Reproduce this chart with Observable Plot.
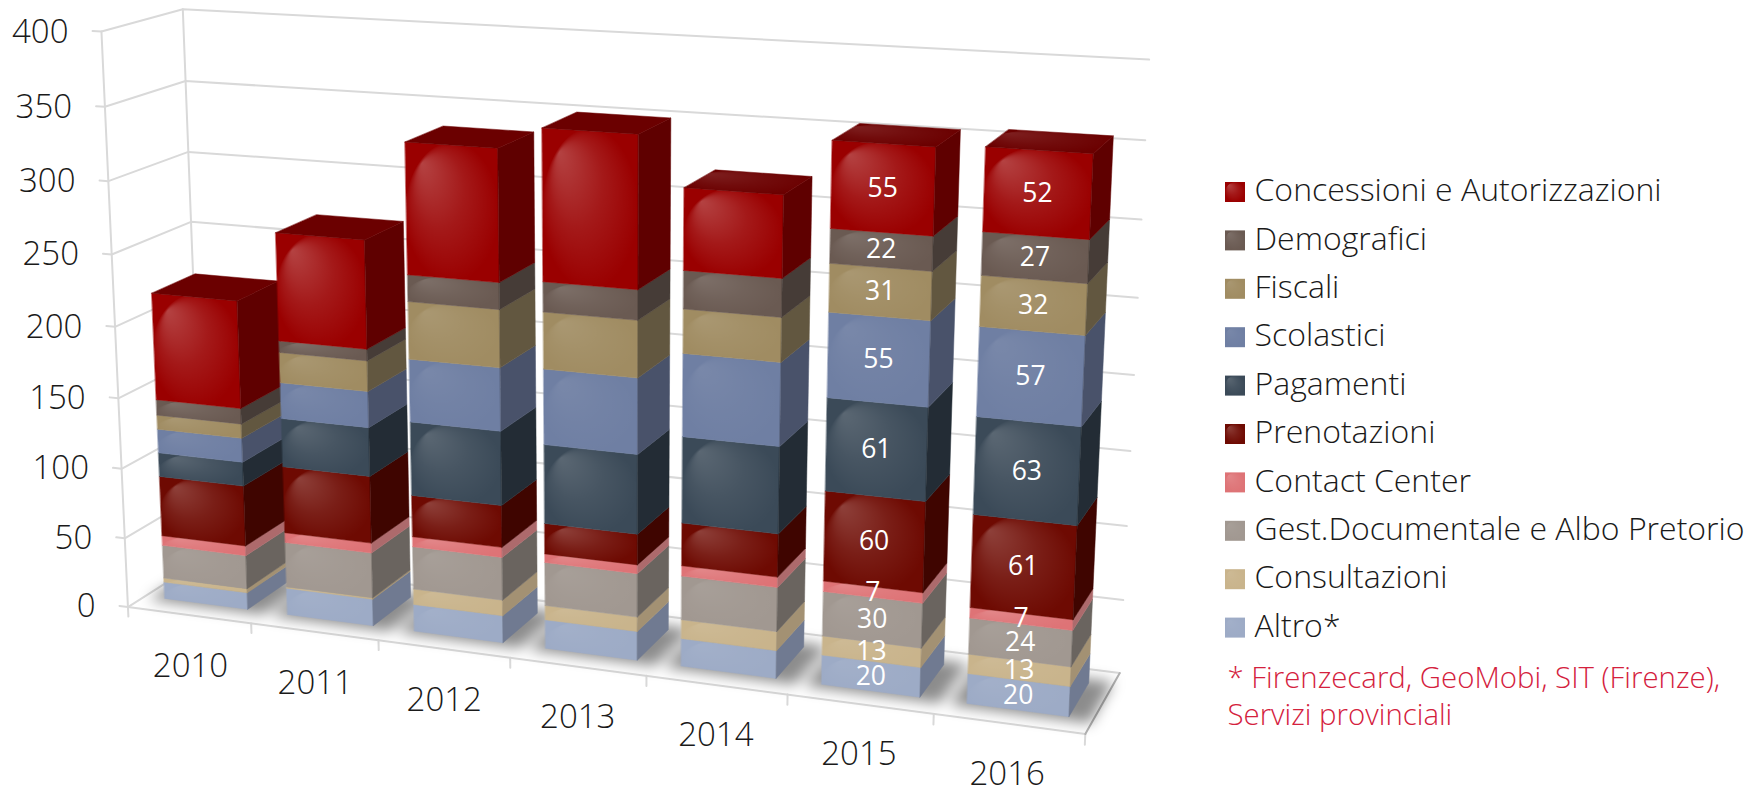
<!DOCTYPE html>
<html><head><meta charset="utf-8">
<script src="https://cdn.jsdelivr.net/npm/d3@7"></script>
<script src="https://cdn.jsdelivr.net/npm/@observablehq/plot@0.6"></script>
<style>body{margin:0;background:#fff}.shadow{filter:blur(7px)}</style>
</head><body><div id="chart"></div>
<script>
const years=[2010,2011,2012,2013,2014,2015,2016];
const seriesNames=["Altro*","Consultazioni","Gest.Documentale e Albo Pretorio","Contact Center","Prenotazioni","Pagamenti","Scolastici","Fiscali","Demografici","Concessioni e Autorizzazioni"];
const altro=[12,19,19,20,19,20,20];
const consultazioni=[3,1,11,10,13,13,13];
const gestDocumentale=[24,32,30,30,30,30,24];
const contactCenter=[7,7,7,6,7,7,7];
const prenotazioni=[43,47,29,21,29,60,61];
const pagamenti=[17,34,51,54,58,61,63];
const scolastici=[17,25,43,51,55,55,57];
const fiscali=[10,21,39,38,29,31,32];
const demografici=[11,8,18,20,25,22,27];
const concessioni=[75,74,88,100,53,55,52];
const seriesValues=[altro,consultazioni,gestDocumentale,contactCenter,prenotazioni,pagamenti,scolastici,fiscali,demografici,concessioni];
const labelledYears=[2015,2016];
const frontColors=["#9dabc6","#c9b48c","#a19891","#de7376","#6e0a02","#3b4a58","#6f7fa3","#a08c62","#6a5a52","#9a0000"];
const sideColors=["#707a91","#a39173","#6a645f","#ad6a6c","#3f0500","#232c35","#49526a","#625740","#463c37","#5f0000"];
const glossOpacity=[.06,.08,.07,.14,.22,.16,.07,.1,.13,.26];
const yTicks=[0,50,100,150,200,250,300,350,400];
const footnote=["* Firenzecard, GeoMobi, SIT (Firenze),","Servizi provinciali"];

// Perspective camera of the 3D chart: (bar slot, value/100, depth) -> picture
const P=[118.1262,-7.85903,47.51125,164.2792,6.162287,-143.0842,-11.34366,597.8996,-0.01612528,-0.01277274,0.02742497];
const bw=0.68,g=0.4,XL=-0.16,XR=6.84;
const proj=(x,v,z)=>{const y=v/100;const w=P[8]*x+P[9]*y+P[10]*z+1;return [(P[0]*x+P[1]*y+P[2]*z+P[3])/w,(P[4]*x+P[5]*y+P[6]*z+P[7])/w];};

const grid=[],axes=[],faces=[],gloss=[],topGloss=[],shadows=[],labels=[];
const poly=(arr,id,pts,extra={})=>pts.forEach(([x,v,z])=>{const q=proj(x,v,z);arr.push({id,px:q[0],py:q[1],...extra});});
yTicks.forEach(t=>poly(grid,"g"+t,[[XL-0.07,t,-g],[XL,t,-g],[XL,t,1+g],[XR,t,1+g]]));
poly(grid,"axisL",[[XL,0,-g],[XL,400,-g]]);
poly(grid,"axisB",[[XL,400,1+g],[XL,0,1+g]]);
poly(grid,"front",[[XL,0,-g],[XR,0,-g]]);
d3.range(8).forEach(t=>poly(grid,"t"+t,[[t-.16,0,-g],[t-.16,-7,-g]]));
poly(axes,"right",[[XR,0,-g],[XR,0,1+g]]);
years.forEach((yr,i)=>{
  poly(shadows,"s"+i,[[i-.1,0,-.1],[i+bw+.15,0,-.1],[i+bw+.15,0,1.12],[i-.1,0,1.12]]);
  let base=0;
  seriesValues.forEach((vals,s)=>{
    const top=base+vals[i];
    const id=i+"-"+s;
    poly(faces,id+"f",[[i,base,0],[i+bw,base,0],[i+bw,top,0],[i,top,0]],{fill:frontColors[s]});
    poly(faces,id+"s",[[i+bw,base,0],[i+bw,base,1],[i+bw,top,1],[i+bw,top,0]],{fill:sideColors[s]});
    poly(gloss,id,[[i,base,0],[i+bw,base,0],[i+bw,top,0],[i,top,0]],{s});
    if(labelledYears.includes(yr)){const q=proj(i+bw/2,base+vals[i]/2,0);labels.push({px:q[0],py:q[1],t:String(vals[i])});}
    base=top;
  });
  poly(faces,i+"top",[[i,base,0],[i+bw,base,0],[i+bw,base,1],[i,base,1]],{fill:"#6b0000"});
  if(i>=4) poly(topGloss,i+"tg",[[i,base,0],[i+bw,base,0],[i+bw,base,1],[i,base,1]]);
});
const yLabels=yTicks.map(t=>{const q=proj(XL-0.07,t,-g);return {px:q[0]-24,py:q[1]+1,t:String(t)};});
const xLabels=years.map((yr,i)=>{const q=proj(i+bw/2-0.05,-34,-g-0.1);return {px:q[0]+10,py:q[1]+3-i*1.1,t:String(yr)};});
const legendRows=seriesNames.map((name,s)=>({name,s,row:9-s}));
const rowY=r=>192+r*48.4;
const chart=Plot.plot({width:1764,height:789,margin:0,
  x:{domain:[0,1764],range:[0,1764],axis:null},y:{domain:[0,789],range:[0,789],axis:null},
  style:{fontFamily:"'Open Sans',sans-serif",background:"#fff"},
  marks:[
    ()=>{const s=d3.create("svg:defs");const r=s.append("radialGradient").attr("id","gl").attr("cx",.5).attr("cy",.5).attr("r",.5).attr("fx",.18).attr("fy",.15);
      r.append("stop").attr("offset",0).attr("stop-color","#fff").attr("stop-opacity",1);
      r.append("stop").attr("offset",.55).attr("stop-color","#fff").attr("stop-opacity",.38);
      r.append("stop").attr("offset",1).attr("stop-color","#fff").attr("stop-opacity",0);return s.node();},
    Plot.line(grid,{x:"px",y:"py",z:"id",stroke:"#d9d9d9",strokeWidth:2}),
    Plot.line(axes,{x:"px",y:"py",z:"id",stroke:"#b3b3b3",strokeWidth:2}),
    Plot.line(shadows,{x:"px",y:"py",z:"id",fill:"#000",fillOpacity:.45,stroke:"none",curve:"linear-closed",className:"shadow"}),
    Plot.line(faces,{x:"px",y:"py",z:"id",fill:"fill",stroke:"fill",strokeWidth:.5,curve:"linear-closed"}),
    ...seriesValues.map((_,s)=>Plot.line(gloss.filter(d=>d.s===s),{x:"px",y:"py",z:"id",fill:"url(#gl)",fillOpacity:glossOpacity[s],stroke:"none",curve:"linear-closed"})),
    Plot.line(topGloss,{x:"px",y:"py",z:"id",fill:"url(#gl)",fillOpacity:.12,stroke:"none",curve:"linear-closed"}),
    Plot.text(labels,{x:"px",y:"py",text:"t",fill:"#fff",fontSize:26.5,fontWeight:400}),
    Plot.text(yLabels,{x:"px",y:"py",text:"t",textAnchor:"end",fontSize:33,fontWeight:300,fill:"#1a1a1a"}),
    Plot.text(xLabels,{x:"px",y:"py",text:"t",fontSize:33,fontWeight:300,fill:"#1a1a1a"}),
    Plot.rect(legendRows,{x1:()=>1225,x2:()=>1245,y1:d=>rowY(d.row)-10,y2:d=>rowY(d.row)+10,fill:d=>frontColors[d.s]}),
    ...seriesValues.map((_,s)=>Plot.rect(legendRows.filter(d=>d.s===s),{x1:()=>1225,x2:()=>1245,y1:d=>rowY(d.row)-10,y2:d=>rowY(d.row)+10,fill:"url(#gl)",fillOpacity:glossOpacity[s]})),
    Plot.text(legendRows,{x:()=>1254,y:d=>rowY(d.row)-1.5,text:"name",textAnchor:"start",fontSize:32,fontWeight:300,fill:"#1a1a1a"}),
    Plot.text(footnote,{x:()=>1227,y:(d,i)=>[678,715][i],text:d=>d,textAnchor:"start",fontSize:29.4,fontWeight:300,fill:"#d4213d"})
  ]});
document.getElementById("chart").append(chart);
</script></body></html>
